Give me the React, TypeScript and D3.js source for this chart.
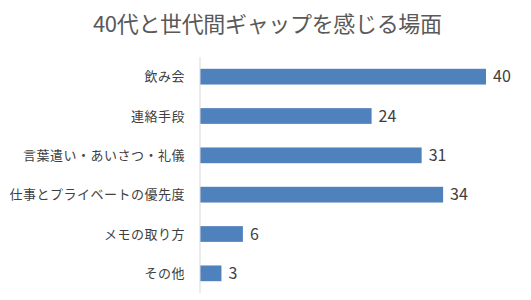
import React from 'react';
import * as d3 from 'd3';

const categories = ['飲み会', '連絡手段', '言葉遣い・あいさつ・礼儀', '仕事とプライベートの優先度', 'メモの取り方', 'その他'];
const values = [40, 24, 31, 34, 6, 3];
const title = '40代と世代間ギャップを感じる場面';

const width = 531;
const height = 300;
const left = 200;
const font = '"Noto Sans CJK JP", "Noto Sans", sans-serif';

function App() {
  const x = d3.scaleLinear().domain([0, 40]).range([left, 486]);
  const y = d3.scaleBand().domain(categories).range([57, 293]).paddingInner(0.6).paddingOuter(0.3);

  return (
    <svg width={width} height={height} style={{ position: 'absolute', left: 0, top: 0 }}>
      <rect width={width} height={height} fill="#fff" />
      <text
        x={93}
        y={32}
        textLength={349}
        lengthAdjust="spacing"
        fontFamily={font}
        fontSize={22}
        fill="#595959"
      >
        {title}
      </text>
      {categories.map((c, i) => (
        <g key={c}>
          <rect
            x={x(0)}
            y={y(c)}
            width={x(values[i]) - x(0)}
            height={y.bandwidth()}
            fill="#4f81bd"
          />
          <text
            x={185}
            y={(y(c) as number) + y.bandwidth() / 2}
            dy="0.35em"
            textAnchor="end"
            fontFamily={font}
            fontSize={13}
            letterSpacing={0.5}
            fill="#404040"
          >
            {c}
          </text>
          <text
            x={x(values[i]) + 7}
            y={(y(c) as number) + y.bandwidth() / 2}
            dy="0.36em"
            fontFamily={font}
            fontSize={16}
            fill="#404040"
          >
            {values[i]}
          </text>
        </g>
      ))}
      <line x1={left} x2={left} y1={57} y2={293} stroke="#d9d9d9" strokeWidth={1} />
    </svg>
  );
}

export default App;
